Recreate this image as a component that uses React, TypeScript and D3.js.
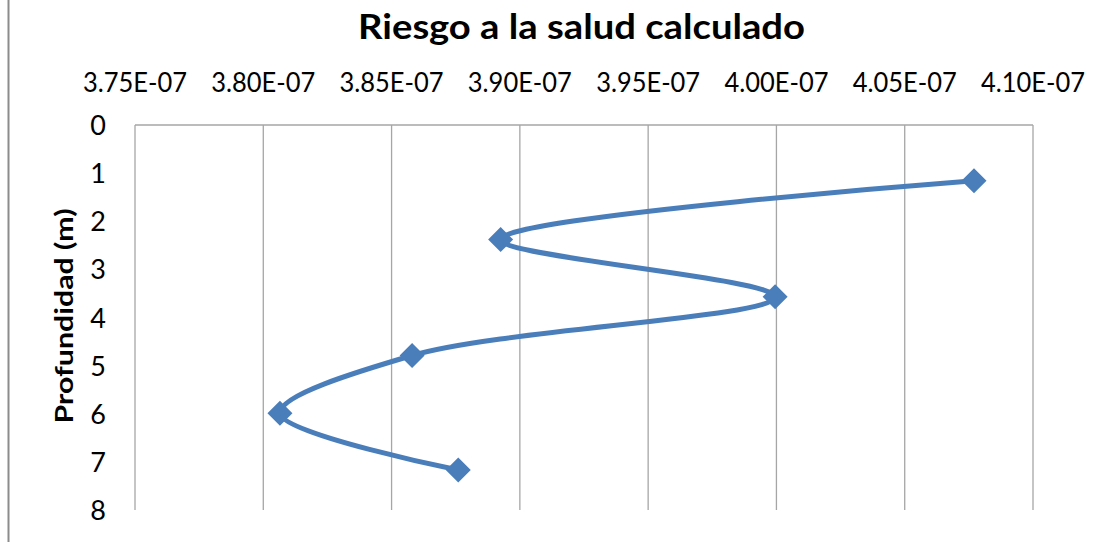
import React from "react";
import * as d3 from "d3";

const title = "Riesgo a la salud calculado";
const yTitle = "Profundidad (m)";
const riskValues = [4.077e-7, 3.8925e-7, 3.9995e-7, 3.858e-7, 3.8065e-7, 3.876e-7];
const depthValues = [1.16, 2.38, 3.57, 4.79, 5.99, 7.17];
const xTicks = [3.75e-7, 3.8e-7, 3.85e-7, 3.9e-7, 3.95e-7, 4.0e-7, 4.05e-7, 4.1e-7];
const yTicks = [0, 1, 2, 3, 4, 5, 6, 7, 8];

const W = 1112;
const H = 542;
const plot = { left: 135, right: 1033, top: 125, bottom: 510 };
const font = "Lato, 'Open Sans', sans-serif";
const blue = "#4A7EBB";

export default function App() {
  const x = d3.scaleLinear().domain([3.75e-7, 4.1e-7]).range([plot.left, plot.right]);
  const y = d3.scaleLinear().domain([0, 8]).range([plot.top, plot.bottom]);
  const pts = riskValues.map((v, i) => [x(v), y(depthValues[i])] as [number, number]);
  const line = d3.line().curve(d3.curveCatmullRom.alpha(0.5))(pts) || "";
  const fmt = (v: number) => {
    const s = v.toExponential(2).toUpperCase();
    const [m, e] = s.split("E");
    const ev = parseInt(e, 10);
    const es = (ev < 0 ? "-" : "+") + String(Math.abs(ev)).padStart(2, "0");
    return `${m}E${es}`;
  };
  const diamond = (cx: number, cy: number, r: number) =>
    `M${cx},${cy - r}L${cx + r},${cy}L${cx},${cy + r}L${cx - r},${cy}Z`;
  return (
    <svg width={W} height={H} style={{ position: "absolute", left: 0, top: 0, background: "#fff" }}>
      <rect x={0} y={0} width={W} height={H} fill="#fff" />
      <line x1={8.5} x2={8.5} y1={0} y2={H} stroke="#8c8c8c" strokeWidth={2} />
      <text
        x={581.5}
        y={39}
        textAnchor="middle"
        fontFamily={font}
        fontWeight="bold"
        fontSize={35}
        fill="#000"
        textLength={447}
        lengthAdjust="spacingAndGlyphs"
      >
        {title}
      </text>
      {xTicks.map((t) => (
        <g key={"x" + t}>
          {t > xTicks[0] && (
            <line x1={x(t)} x2={x(t)} y1={plot.top} y2={plot.bottom} stroke="#a6a6a6" strokeWidth={1.3} />
          )}
          <text
            x={x(t)}
            y={92}
            textAnchor="middle"
            fontFamily={font}
            fontSize={26}
            fill="#000"
            textLength={104}
            lengthAdjust="spacingAndGlyphs"
          >
            {fmt(t)}
          </text>
        </g>
      ))}
      <line x1={plot.left} x2={plot.right} y1={plot.top} y2={plot.top} stroke="#a6a6a6" strokeWidth={1.3} />
      <line x1={plot.left} x2={plot.left} y1={plot.top} y2={plot.bottom} stroke="#a6a6a6" strokeWidth={1.3} />
      {yTicks.map((t) => (
        <text key={"y" + t} x={106} y={y(t) + 10} textAnchor="end" fontFamily={font} fontSize={27} fill="#000">
          {t}
        </text>
      ))}
      <text
        transform={`translate(73,316) rotate(-90)`}
        textAnchor="middle"
        fontFamily={font}
        fontWeight="bold"
        fontSize={25}
        fill="#000"
        textLength={215}
        lengthAdjust="spacingAndGlyphs"
      >
        {yTitle}
      </text>
      <path d={line} fill="none" stroke={blue} strokeWidth={5} strokeLinejoin="round" strokeLinecap="round" />
      {pts.map(([cx, cy], i) => (
        <path key={"m" + i} d={diamond(cx, cy, 12.5)} fill={blue} />
      ))}
    </svg>
  );
}
